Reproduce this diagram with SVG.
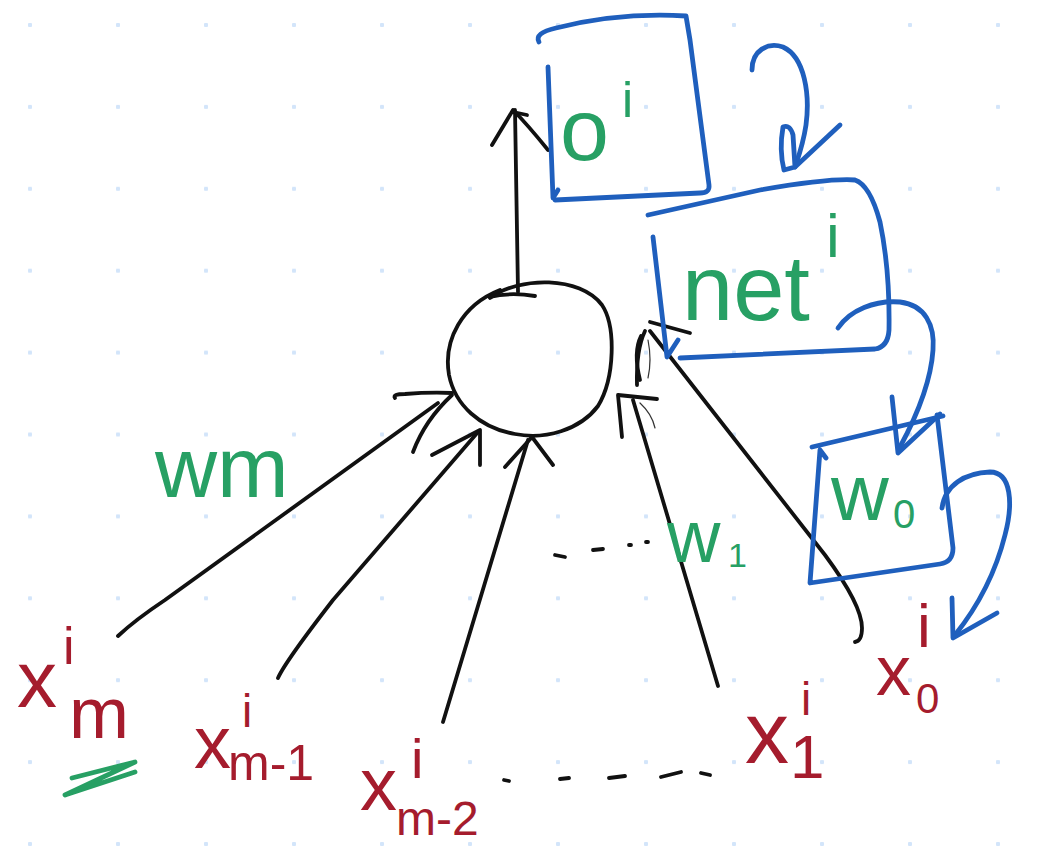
<svg xmlns="http://www.w3.org/2000/svg" width="1046" height="846" viewBox="0 0 1046 846">
  <defs>
    <!-- dotted notebook grid -->
    <pattern id="grid" x="28" y="23" width="88" height="81.9" patternUnits="userSpaceOnUse">
      <rect x="0" y="0" width="4" height="4" rx="1" fill="#d3e5fa"/>
    </pattern>
    <style>
      .ink { fill: none; stroke: #111; stroke-width: 3.8; stroke-linecap: round; stroke-linejoin: round; }
      .thin { fill: none; stroke: #333; stroke-width: 1.2; stroke-linecap: round; }
      .blue { fill: none; stroke: #1f5fbd; stroke-width: 4.8; stroke-linecap: round; stroke-linejoin: round; }
      .gmark { fill: none; stroke: #27a064; stroke-width: 4.8; stroke-linecap: round; stroke-linejoin: round; }
      .g { fill: #27a064; font-family: "Liberation Sans", Arial, sans-serif; }
      .r { fill: #a51c2d; font-family: "Liberation Sans", Arial, sans-serif; }
    </style>
  </defs>

  <rect width="1046" height="846" fill="#ffffff"/>
  <rect width="1046" height="846" fill="url(#grid)"/>

  <!-- neuron body -->
  <g id="neuron">
    <path class="ink" d="M 490,298 C 520,276 580,276 602,305 C 616,326 615,378 598,406 C 580,430 545,440 515,434 C 480,428 455,405 449,375 C 443,340 462,305 500,290"/>
    <path class="ink" d="M 490,297 Q 510,292 535,296"/>
  </g>

  <!-- connectors -->
  <g id="connectors">
    <!-- output arrow -->
    <path class="ink" d="M 518,292 L 515,110"/>
    <path class="ink" d="M 492,145 L 513,110 Q 527,124 548,150"/>
    <path class="ink" d="M 513,112 L 527,115"/>

    <!-- x_m input -->
    <path class="ink" d="M 118,636 Q 135,620 165,600 L 438,403"/>
    <path class="ink" d="M 395,398 Q 392,394 405,394 Q 430,392 452,393"/>
    <path class="ink" d="M 413,452 Q 425,420 452,395"/>

    <!-- x_{m-1} input -->
    <path class="ink" d="M 278,678 Q 285,662 333,600 L 478,432"/>
    <path class="ink" d="M 432,455 L 480,430 L 480,465"/>

    <!-- x_{m-2} input -->
    <path class="ink" d="M 443,722 L 528,440"/>
    <path class="ink" d="M 505,467 L 532,437 L 553,465"/>

    <!-- x_1 input -->
    <path class="ink" d="M 718,686 L 633,400"/>
    <path class="ink" d="M 622,437 L 618,395 L 657,399"/>
    <path class="thin" d="M 640,403 Q 652,414 655,428"/>

    <!-- x_0 input -->
    <path class="ink" d="M 650,331 L 825,555 Q 862,605 862,628 Q 862,641 855,642"/>
    <path class="ink" d="M 650,322 L 690,333"/>
    <path class="ink" d="M 645,331 Q 636,350 637,385"/>
    <path class="ink" d="M 641,336 Q 633,352 640,380"/>
    <path class="thin" d="M 648,340 Q 652,360 648,378"/>

    <!-- ellipsis between inputs -->
    <path class="ink" d="M 555,555 L 565,557 M 593,550 L 603,549 M 629,545 L 631,545 M 646,542 L 648,542"/>
    <path class="ink" d="M 504,780 L 509,781 M 560,779 L 569,778 M 609,778 L 625,776 M 661,777 L 681,772 M 701,773 L 710,775"/>

    <!-- backward chain arrows -->
    <path class="blue" d="M 752,70 C 752,50 768,42 783,47 C 805,57 810,95 806,125 C 803,145 798,158 795,167"/>
    <path class="blue" d="M 795,167 L 784,170 Q 779,150 783,127 Q 790,124 793,135 L 795,167 L 840,125"/>

    <path class="blue" d="M 838,328 C 850,310 875,300 900,302 C 925,305 935,325 933,350 C 931,380 920,410 900,447"/>
    <path class="blue" d="M 892,397 L 898,453 L 940,414"/>

    <path class="blue" d="M 942,508 C 945,485 965,473 990,472 C 1012,472 1013,505 1005,535 C 995,575 975,610 955,635"/>
    <path class="blue" d="M 952,598 L 953,638 L 997,613"/>
  </g>

  <!-- output box o^i -->
  <g id="box-o">
    <path class="blue" d="M 539,42 Q 534,33 556,28 Q 620,12 686,16 L 690,40 L 709,185 Q 710,193 700,193 L 555,200"/>
    <path class="blue" d="M 548,67 L 553,198 L 558,190"/>
    <text class="g" font-size="88"><tspan x="560" y="160">o</tspan><tspan x="622" y="117" font-size="50">i</tspan></text>
  </g>

  <!-- net box -->
  <g id="box-net">
    <path class="blue" d="M 648,215 L 760,190 Q 830,178 855,180 Q 870,185 880,222 Q 890,270 889,330 Q 888,347 875,349 L 680,358"/>
    <path class="blue" d="M 653,237 L 667,357 L 678,340"/>
    <text class="g" font-size="92"><tspan x="682" y="320">net</tspan><tspan x="826" y="257" font-size="62">i</tspan></text>
  </g>

  <!-- w0 box -->
  <g id="box-w0">
    <path class="blue" d="M 812,447 L 943,416 M 937,415 L 953,548 Q 953,562 940,564 L 810,583 L 820,450 L 826,458"/>
    <text class="g" font-size="80"><tspan x="831" y="520">w</tspan><tspan x="893" y="528" font-size="40">0</tspan></text>
  </g>

  <!-- weight labels -->
  <g id="weight-wm">
    <text class="g" font-size="86" x="155" y="497">wm</text>
  </g>
  <g id="weight-w1">
    <text class="g" font-size="74"><tspan x="667" y="562">w</tspan><tspan x="728" y="567" font-size="34">1</tspan></text>
  </g>

  <!-- inputs -->
  <g id="input-xm">
    <text class="r" font-size="80"><tspan x="17" y="707">x</tspan><tspan x="63" y="664" font-size="52">i</tspan></text>
    <text class="r" font-size="72" x="69" y="738">m</text>
    <path class="gmark" d="M 72,778 L 135,762 L 65,795 L 135,772"/>
  </g>
  <g id="input-xm1">
    <text class="r" font-size="74"><tspan x="194" y="768">x</tspan><tspan x="242" y="727" font-size="46">i</tspan><tspan x="228" y="780" font-size="50">m-1</tspan></text>
  </g>
  <g id="input-xm2">
    <text class="r" font-size="74"><tspan x="360" y="810">x</tspan><tspan x="411" y="778" font-size="56">i</tspan><tspan x="396" y="835" font-size="48">m-2</tspan></text>
  </g>
  <g id="input-x1">
    <text class="r" font-size="88"><tspan x="745" y="763">x</tspan><tspan x="801" y="715" font-size="46">i</tspan><tspan x="790" y="778" font-size="62">1</tspan></text>
  </g>
  <g id="input-x0">
    <text class="r" font-size="70"><tspan x="876" y="695">x</tspan><tspan x="916" y="713" font-size="42">0</tspan><tspan x="917" y="647" font-size="62">i</tspan></text>
  </g>
</svg>
